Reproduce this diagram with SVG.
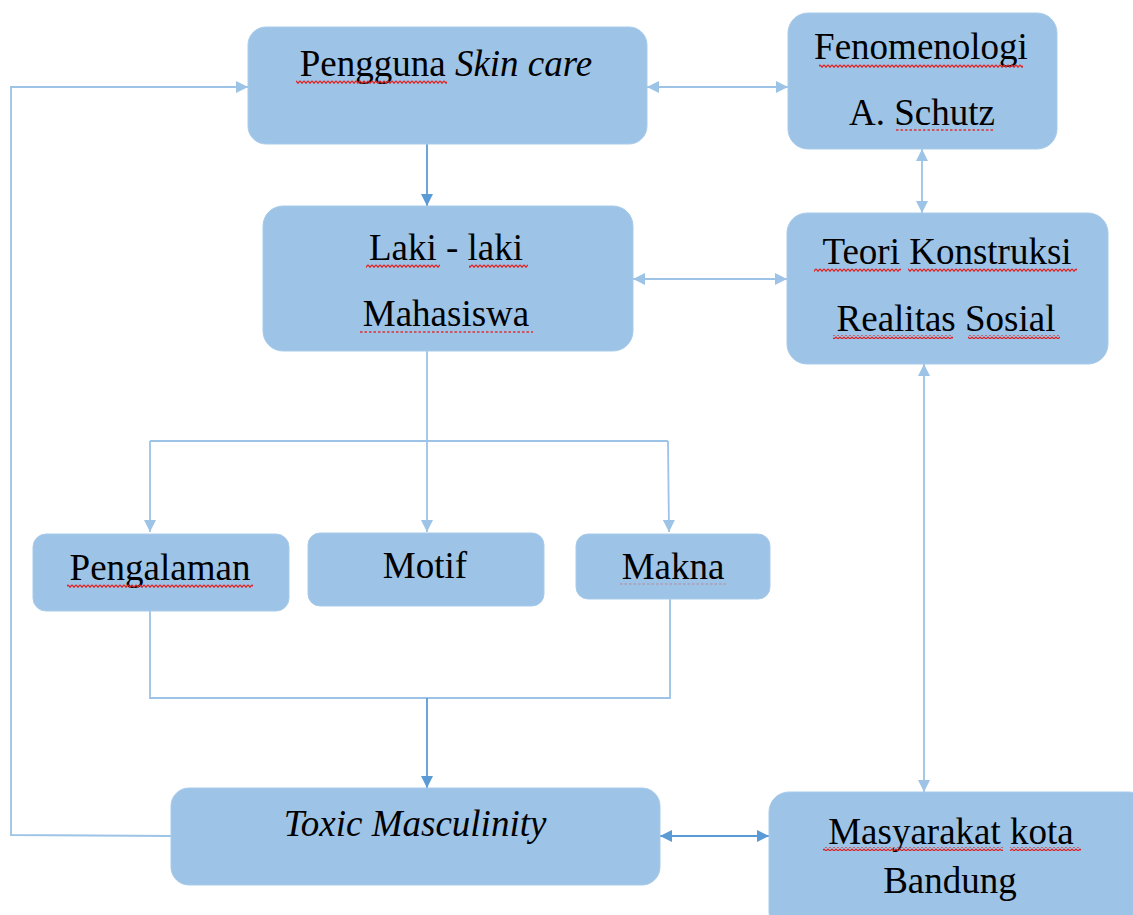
<svg xmlns="http://www.w3.org/2000/svg" width="1133" height="915" viewBox="0 0 1133 915">
<style>
.node{fill:#9DC3E6;stroke:#A9CBEA;stroke-width:1}
.t{font-family:'Liberation Serif','Times New Roman',serif;font-size:37px;fill:#000;text-anchor:middle}
.i{font-style:italic}
.cl{fill:none;stroke:#9DC3E6;stroke-width:1.8}
.cd{fill:none;stroke:#5B9BD5;stroke-width:1.8}
.sq{fill:url(#wave)}
.dot{fill:none;stroke:#E03030;stroke-width:1.4;stroke-dasharray:2.5 2}
</style>
<defs>
<marker id="al" viewBox="0 0 10 10" refX="10" refY="5" markerUnits="userSpaceOnUse" markerWidth="12" markerHeight="12" orient="auto-start-reverse"><path d="M0 0 L10 5 L0 10 z" fill="#9DC3E6"/></marker>
<marker id="ad" viewBox="0 0 10 10" refX="10" refY="5" markerUnits="userSpaceOnUse" markerWidth="12" markerHeight="12" orient="auto-start-reverse"><path d="M0 0 L10 5 L0 10 z" fill="#5B9BD5"/></marker>
<pattern id="wave" width="4" height="4" patternUnits="userSpaceOnUse"><path d="M0 0.8 L2 3.2 L4 0.8" fill="none" stroke="#E02020" stroke-width="1.3"/></pattern>
</defs>
<rect width="1133" height="915" fill="#fff"/>
<g id="connectors">
<path class="cd" d="M427 144 V206" marker-end="url(#ad)"/>
<path class="cl" d="M647 87 H788" marker-start="url(#al)" marker-end="url(#al)"/>
<path class="cl" d="M922 149 V213" marker-start="url(#al)" marker-end="url(#al)"/>
<path class="cl" d="M633 279 H787" marker-start="url(#al)" marker-end="url(#al)"/>
<path class="cl" d="M427 351 V532" marker-end="url(#al)"/>
<path class="cl" d="M150 441 H668"/>
<path class="cl" d="M150 441 V532" marker-end="url(#al)"/>
<path class="cl" d="M668 441 L669 532" marker-end="url(#al)"/>
<path class="cl" d="M150 611 V698 H670 V599"/>
<path class="cd" d="M427 698 V788" marker-end="url(#ad)"/>
<path class="cl" d="M171 836 L11 835 V87 H248" marker-end="url(#al)"/>
<path class="cd" d="M660 836 H769" marker-start="url(#ad)" marker-end="url(#ad)"/>
<path class="cl" d="M924 364 V792" marker-start="url(#al)" marker-end="url(#al)"/>
</g>
<g id="pengguna">
<rect class="node" x="248" y="27" width="399" height="117" rx="18"/>
<text class="t" x="446" y="76">Pengguna <tspan class="i">Skin care</tspan></text>
<rect class="sq" x="296" y="80" width="151" height="4"/>
</g>
<g id="fenomenologi">
<rect class="node" x="788" y="13" width="269" height="136" rx="20"/>
<text class="t" x="921" y="59">Fenomenologi</text>
<text class="t" x="922" y="125">A. Schutz</text>
<rect class="sq" x="819" y="64" width="204" height="4"/>
<path class="dot" d="M896 130 H993"/>
</g>
<g id="laki">
<rect class="node" x="263" y="206" width="370" height="145" rx="20"/>
<text class="t" x="446" y="260">Laki - laki</text>
<text class="t" x="446" y="326">Mahasiswa</text>
<rect class="sq" x="366" y="264" width="74" height="4"/>
<rect class="sq" x="469" y="264" width="59" height="4"/>
<path class="dot" d="M360 332 H533"/>
</g>
<g id="teori">
<rect class="node" x="787" y="213" width="321" height="151" rx="20"/>
<text class="t" x="947" y="264">Teori Konstruksi</text>
<text class="t" x="946" y="331">Realitas Sosial</text>
<rect class="sq" x="814" y="268" width="87" height="4"/>
<rect class="sq" x="908" y="268" width="169" height="4"/>
<rect class="sq" x="833" y="335" width="120" height="4"/>
<rect class="sq" x="968" y="335" width="92" height="4"/>
</g>
<g id="pengalaman">
<rect class="node" x="33" y="534" width="256" height="77" rx="13"/>
<text class="t" x="160" y="580">Pengalaman</text>
<rect class="sq" x="67" y="584" width="186" height="4"/>
</g>
<g id="motif">
<rect class="node" x="308" y="533" width="236" height="73" rx="12"/>
<text class="t" x="425" y="578">Motif</text>
</g>
<g id="makna">
<rect class="node" x="576" y="534" width="194" height="65" rx="12"/>
<text class="t" x="673" y="579">Makna</text>
<path class="dot" d="M620 584 H727" style="stroke-width:0.8;opacity:0.5"/>
</g>
<g id="toxic">
<rect class="node" x="171" y="788" width="489" height="97" rx="18"/>
<text class="t i" x="415" y="836">Toxic Masculinity</text>
</g>
<g id="masyarakat">
<rect class="node" x="769" y="792" width="380" height="140" rx="20"/>
<text class="t" x="951" y="844">Masyarakat kota</text>
<text class="t" x="950" y="893">Bandung</text>
<rect class="sq" x="823" y="847" width="180" height="4"/>
<rect class="sq" x="1010" y="847" width="71" height="4"/>
</g>
</svg>
